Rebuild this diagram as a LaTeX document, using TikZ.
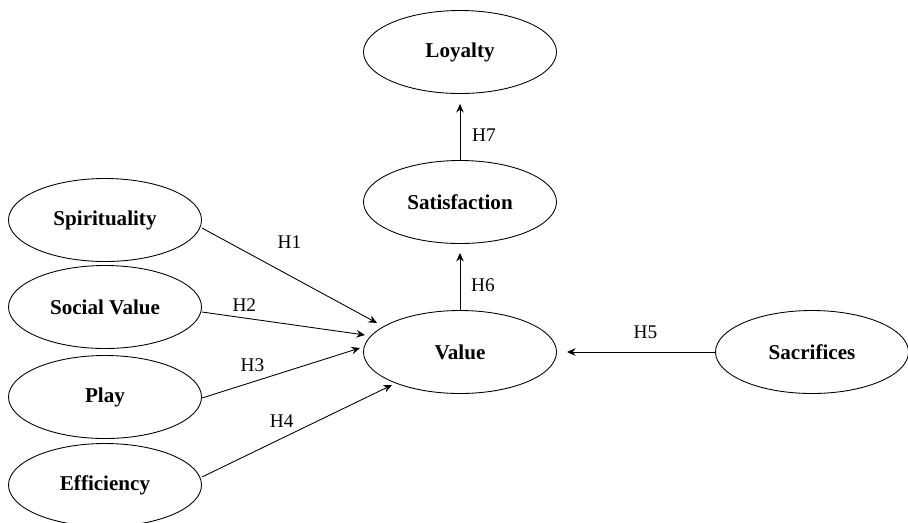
\documentclass[tikz,border=0pt]{standalone}
\usepackage{fontspec}
\setmainfont{Liberation Serif}
\usetikzlibrary{positioning, calc, arrows.meta, shapes.geometric}

\begin{document}
\begin{tikzpicture}[
    latent/.style={ellipse, draw, line width=0.5pt, minimum width=3.86cm, minimum height=1.66cm, inner sep=0pt, font=\bfseries\fontsize{12}{14}\selectfont},
    effect/.style={-{Stealth[length=1.7mm, width=1.5mm]}, line width=0.5pt},
    hyp/.style={font=\fontsize{11}{13}\selectfont, inner sep=0pt}]
    \useasboundingbox (0,0) rectangle (18.16,-10.44);

    % outcome chain
    \node[latent] (value) at (9.2,-7.04) {Value};
    \node[latent] (satisfaction) at (9.2,-4.04) {Satisfaction};
    \node[latent] (loyalty) at (9.2,-1.04) {Loyalty};
    \node[latent] (sacrifices) at (16.24,-7.04) {Sacrifices};

    % antecedents, left column
    \foreach \name/\txt/\y in {spirit/Spirituality/-4.4, social/Social Value/-6.14, play/Play/-7.94, effic/Efficiency/-9.7}
        \node[latent] (\name) at (2.1,\y) {\txt};

    % arrow ends in front of value
    \foreach \dx/\dy [count=\i] in {-1.66/0.58, -1.9/0.34, -2.0/0.08, -1.36/-0.66, 2.14/0}
        \coordinate (e\i) at ($(value)+(\dx,\dy)$);
    \coordinate (e6) at ($(satisfaction.south)+(0,-0.18)$);
    \coordinate (e7) at ($(loyalty.south)+(0,-0.2)$);

    % H1 -- H4
    \foreach \from/\dy/\p/\s [count=\i] in {spirit/-0.16/0.5/0.66, social/-0.1/0.26/0.26, play/-0.02/0.32/0.34, effic/0.16/0.42/0.34}
        \draw[effect] ([yshift=\dy cm]\from.east) -- (e\i) node[hyp, pos=\p, yshift=\s cm] (h\i) {H\i};

    % H5 -- H7
    \draw[effect] (sacrifices.west) -- (e5) node[hyp, pos=0.47, yshift=0.4cm] (h5) {H5};
    \draw[effect] (value.north) -- (e6) node[hyp, pos=0.43, xshift=0.46cm] (h6) {H6};
    \draw[effect] (satisfaction.north) -- (e7) node[hyp, pos=0.44, xshift=0.48cm] (h7) {H7};
\end{tikzpicture}
\end{document}
